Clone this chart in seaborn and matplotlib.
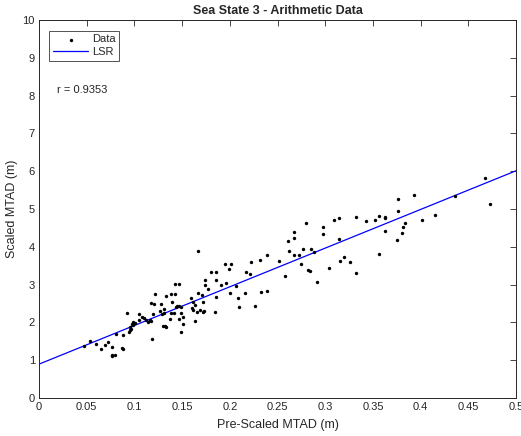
import numpy as np
import pandas as pd
import matplotlib
matplotlib.use("Agg")
import matplotlib.pyplot as plt
import seaborn as sns

# values
pre_scaled = [0.047, 0.053, 0.060, 0.065, 0.069, 0.072, 0.077, 0.076, 0.077, 0.080,
              0.087, 0.088, 0.081, 0.088, 0.092, 0.094, 0.096, 0.099, 0.101, 0.097,
              0.099, 0.095, 0.095, 0.105, 0.108, 0.110, 0.105, 0.114, 0.117, 0.112,
              0.116, 0.120, 0.118, 0.117, 0.121, 0.122, 0.128, 0.127, 0.129, 0.131,
              0.131, 0.130, 0.132, 0.133, 0.133, 0.138, 0.139, 0.143, 0.143, 0.147,
              0.137, 0.138, 0.142, 0.149, 0.145, 0.147, 0.149, 0.144, 0.147, 0.151,
              0.151, 0.149, 0.159, 0.160, 0.161, 0.161, 0.164, 0.164, 0.166, 0.169,
              0.172, 0.167, 0.171, 0.167, 0.174, 0.174, 0.172, 0.173, 0.177, 0.180,
              0.185, 0.186, 0.184, 0.186, 0.191, 0.196, 0.195, 0.201, 0.199, 0.200,
              0.206, 0.209, 0.210, 0.216, 0.217, 0.221, 0.222, 0.232, 0.239, 0.226,
              0.233, 0.239, 0.252, 0.258, 0.262, 0.261, 0.267, 0.267, 0.267, 0.273,
              0.277, 0.285, 0.288, 0.275, 0.282, 0.284, 0.291, 0.280, 0.298, 0.298,
              0.304, 0.309, 0.314, 0.314, 0.316, 0.320, 0.326, 0.332, 0.332, 0.343,
              0.352, 0.356, 0.363, 0.363, 0.363, 0.356, 0.375, 0.380, 0.382, 0.384,
              0.376, 0.376, 0.393, 0.401, 0.415, 0.436, 0.468, 0.473]
scaled = [1.38, 1.52, 1.44, 1.30, 1.40, 1.48, 1.34, 1.14, 1.11, 1.15,
          1.33, 1.30, 1.69, 1.67, 2.26, 1.74, 1.83, 1.94, 1.98, 1.95,
          2.02, 1.89, 1.80, 2.22, 2.13, 2.12, 2.06, 2.00, 2.04, 2.06,
          2.06, 2.21, 1.56, 2.52, 2.48, 2.74, 2.49, 2.30, 2.21, 2.35,
          2.25, 1.90, 1.90, 1.89, 2.70, 2.74, 2.55, 2.75, 3.02, 3.02,
          2.08, 2.26, 2.25, 2.26, 2.44, 2.44, 2.41, 2.41, 2.08, 1.97,
          2.15, 1.75, 2.65, 2.39, 2.34, 2.53, 2.47, 2.03, 2.28, 2.34,
          2.27, 2.79, 2.72, 3.89, 3.12, 2.98, 2.53, 2.29, 2.88, 3.34,
          3.33, 3.13, 2.28, 2.68, 2.99, 3.05, 3.54, 3.54, 3.42, 2.79,
          2.97, 2.65, 2.42, 2.79, 3.32, 3.27, 3.60, 3.64, 3.78, 2.43,
          2.81, 2.82, 3.63, 3.23, 3.90, 4.14, 4.22, 4.40, 3.78, 3.78,
          3.94, 3.94, 3.85, 3.54, 3.39, 3.36, 3.08, 4.64, 4.53, 4.35,
          3.43, 4.72, 4.77, 4.20, 3.63, 3.73, 3.60, 3.31, 4.79, 4.67,
          4.70, 4.81, 4.80, 4.75, 4.43, 3.81, 4.19, 4.37, 4.51, 4.64,
          4.95, 5.27, 5.38, 4.72, 4.84, 5.34, 5.83, 5.14]

x_ticks = [0, 0.05, 0.1, 0.15, 0.2, 0.25, 0.3, 0.35, 0.4, 0.45, 0.5]
x_tick_labels = ["0", "0.05", "0.1", "0.15", "0.2", "0.25", "0.3", "0.35", "0.4", "0.45", "0.5"]
y_ticks = list(range(0, 11))
r_label = "r = 0.9353"

df = pd.DataFrame({"pre": pre_scaled, "scaled": scaled})

sns.set_style("white")
plt.rcParams["font.family"] = ["Liberation Sans", "DejaVu Sans"]

fig = plt.figure(figsize=(5.21, 4.36), dpi=100)
ax = fig.add_axes([0.0749, 0.0872, 0.9155, 0.8670])

grey = "#262626"

# least squares fit over the full x range
slope, intercept = np.polyfit(df["pre"], df["scaled"], 1)
x_line = np.array([x_ticks[0], x_ticks[-1]])
fit = pd.DataFrame({"pre": x_line, "scaled": intercept + slope * x_line})

sns.scatterplot(data=df, x="pre", y="scaled", ax=ax, color="black", s=6,
                linewidth=0, marker="o", label="Data", zorder=3)
sns.lineplot(data=fit, x="pre", y="scaled", ax=ax, color="#0000ff",
             linewidth=0.9, label="LSR", zorder=2)

ax.set_xlim(x_ticks[0], x_ticks[-1])
ax.set_ylim(y_ticks[0], y_ticks[-1])
ax.set_xticks(x_ticks)
ax.set_xticklabels(x_tick_labels)
ax.set_yticks(y_ticks)
ax.tick_params(direction="in", length=4, width=0.6, labelsize=8, colors=grey,
               top=True, right=True, pad=3)
for sp in ax.spines.values():
    sp.set_color(grey)
    sp.set_linewidth(0.7)

ax.set_title("Sea State 3 - Arithmetic Data", fontsize=9, fontweight="bold", pad=4)
ax.set_xlabel("Pre-Scaled MTAD (m)", fontsize=9, color=grey, labelpad=5)
ax.set_ylabel("Scaled MTAD (m)", fontsize=9, color=grey, labelpad=3)

ax.text(0.019, 8.15, r_label, fontsize=8, color=grey, va="center")

leg = ax.legend(loc="upper left", bbox_to_anchor=(0.021, 0.972), borderaxespad=0,
                fontsize=8, frameon=True, fancybox=False, edgecolor=grey,
                borderpad=0.35, handlelength=3.2, handletextpad=0.3,
                labelspacing=0.2, markerscale=1.0)
leg.get_frame().set_linewidth(0.7)

fig.savefig("out.png", dpi=100)
